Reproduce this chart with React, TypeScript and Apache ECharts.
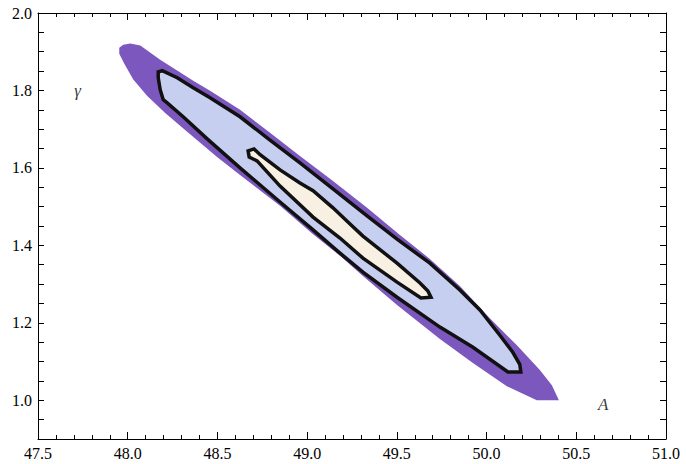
import React, { useEffect, useRef } from "react";
import * as echarts from "echarts";

// Axis ranges and ticks
const xRange = [47.5, 51.0];
const yRange = [0.9, 2.0];
const xInterval = 0.5;
const yInterval = 0.1;

// Confidence regions (outline vertices, [A, gamma])
const outerRegion: number[][] = [
  [47.953, 1.910], [47.975, 1.918], [48.014, 1.921], [48.070, 1.916], [48.181, 1.879],
  [48.365, 1.825], [48.459, 1.799], [48.626, 1.750], [48.793, 1.691], [48.960, 1.631],
  [49.144, 1.566], [49.334, 1.497], [49.517, 1.427], [49.684, 1.365], [49.851, 1.295],
  [50.018, 1.212], [50.169, 1.142], [50.297, 1.078], [50.364, 1.039], [50.403, 1.000],
  [50.280, 1.000], [50.113, 1.036], [49.924, 1.096], [49.740, 1.158], [49.501, 1.246],
  [49.311, 1.321], [49.183, 1.373], [49.033, 1.429], [48.849, 1.502], [48.626, 1.582],
  [48.498, 1.628], [48.404, 1.665], [48.320, 1.698], [48.209, 1.742], [48.109, 1.786],
  [48.031, 1.828], [47.981, 1.869], [47.953, 1.895],
];

const middleRegion: number[][] = [
  [48.170, 1.848], [48.192, 1.851], [48.276, 1.833], [48.365, 1.807], [48.459, 1.781],
  [48.626, 1.732], [48.793, 1.672], [48.960, 1.613], [49.144, 1.546], [49.334, 1.476],
  [49.501, 1.416], [49.684, 1.354], [49.851, 1.285], [49.963, 1.233], [50.074, 1.168],
  [50.146, 1.124], [50.185, 1.093], [50.191, 1.073], [50.119, 1.073], [49.924, 1.137],
  [49.740, 1.189], [49.684, 1.207], [49.501, 1.266], [49.311, 1.331], [49.183, 1.380],
  [49.033, 1.440], [48.849, 1.512], [48.626, 1.600], [48.443, 1.675], [48.309, 1.732],
  [48.220, 1.768], [48.198, 1.776], [48.181, 1.802], [48.170, 1.833],
];

const innerRegion: number[][] = [
  [48.671, 1.644], [48.704, 1.649], [48.738, 1.634], [48.849, 1.595], [48.960, 1.561],
  [49.033, 1.541], [49.144, 1.497], [49.239, 1.455], [49.311, 1.424], [49.501, 1.354],
  [49.629, 1.303], [49.673, 1.282], [49.690, 1.266], [49.634, 1.264], [49.501, 1.305],
  [49.311, 1.367], [49.183, 1.419], [49.033, 1.473], [48.849, 1.553], [48.721, 1.618],
  [48.677, 1.628],
];

// Annotations
const annotationTexts = ["γ", "A"];
const annotationX = [47.72, 50.65];
const annotationY = [1.80, 0.99];

const serif = "'Liberation Serif', 'DejaVu Serif', serif";

function regionRenderer(outline: number[][], fill: string, stroke: string | null) {
  return (params: any, api: any) => {
    if (params.dataIndex !== 0) return null;
    const points = outline.map((p) => api.coord(p));
    return {
      type: "polygon",
      shape: { points },
      style: {
        fill,
        stroke: stroke || "none",
        lineWidth: stroke ? 3.5 : 0,
        lineJoin: "miter",
      },
    };
  };
}

function xAxisDef(position: "bottom" | "top", showLabel: boolean) {
  return {
    type: "value",
    position,
    min: xRange[0],
    max: xRange[1],
    interval: xInterval,
    axisLine: { show: true, onZero: false, lineStyle: { color: "#000", width: 1 } },
    axisTick: { show: true, inside: true, length: 7, lineStyle: { color: "#000" } },
    minorTick: { show: true, splitNumber: 5, length: 4, lineStyle: { color: "#000" } },
    splitLine: { show: false },
    axisLabel: {
      show: showLabel,
      color: "#000",
      fontFamily: serif,
      fontSize: 16,
      margin: 6,
      formatter: (v: number) => v.toFixed(1),
    },
  };
}

function yAxisDef(position: "left" | "right", showLabel: boolean) {
  return {
    type: "value",
    position,
    min: yRange[0],
    max: yRange[1],
    interval: yInterval,
    axisLine: { show: true, onZero: false, lineStyle: { color: "#000", width: 1 } },
    axisTick: { show: true, inside: true, length: 6, lineStyle: { color: "#000" } },
    minorTick: { show: true, splitNumber: 2, length: 6, lineStyle: { color: "#000" } },
    splitLine: { show: false },
    axisLabel: {
      show: showLabel,
      color: "#000",
      fontFamily: serif,
      fontSize: 16,
      margin: 6,
      formatter: (v: number) => {
        const k = Math.round(v * 10);
        if (k % 2 !== 0 || k < 10) return "";
        return (k / 10).toFixed(1);
      },
    },
  };
}

export default function App() {
  const ref = useRef<HTMLDivElement>(null);
  useEffect(() => {
    if (!ref.current) return;
    const chart = echarts.init(ref.current, null, { renderer: "svg" });
    chart.setOption({
      animation: false,
      backgroundColor: "#fff",
      grid: { left: 38, right: 20, top: 13, bottom: 25, containLabel: false },
      xAxis: [xAxisDef("bottom", true), xAxisDef("top", false)],
      yAxis: [yAxisDef("left", true), yAxisDef("right", false)],
      series: [
        {
          type: "custom",
          xAxisIndex: 0,
          yAxisIndex: 0,
          clip: true,
          data: outerRegion,
          encode: { x: 0, y: 1 },
          renderItem: regionRenderer(outerRegion, "#7b57be", null),
          z: 2,
        },
        {
          type: "custom",
          xAxisIndex: 0,
          yAxisIndex: 0,
          clip: true,
          data: middleRegion,
          encode: { x: 0, y: 1 },
          renderItem: regionRenderer(middleRegion, "#c7cff1", "#111"),
          z: 3,
        },
        {
          type: "custom",
          xAxisIndex: 0,
          yAxisIndex: 0,
          clip: true,
          data: innerRegion,
          encode: { x: 0, y: 1 },
          renderItem: regionRenderer(innerRegion, "#f7f0e3", "#111"),
          z: 4,
        },
        {
          type: "scatter",
          xAxisIndex: 0,
          yAxisIndex: 0,
          symbolSize: 1,
          itemStyle: { color: "rgba(0,0,0,0)" },
          silent: true,
          z: 5,
          data: annotationTexts.map((t, i) => ({ name: t, value: [annotationX[i], annotationY[i]] })),
          label: {
            show: true,
            position: "inside",
            formatter: (p: any) => p.name,
            color: "#000",
            fontFamily: serif,
            fontStyle: "italic",
            fontSize: 17,
          },
        },
      ],
    });
    return () => chart.dispose();
  }, []);
  return (
    <div
      ref={ref}
      style={{ position: "fixed", left: 0, top: 0, width: 686, height: 464, background: "#fff" }}
    />
  );
}
